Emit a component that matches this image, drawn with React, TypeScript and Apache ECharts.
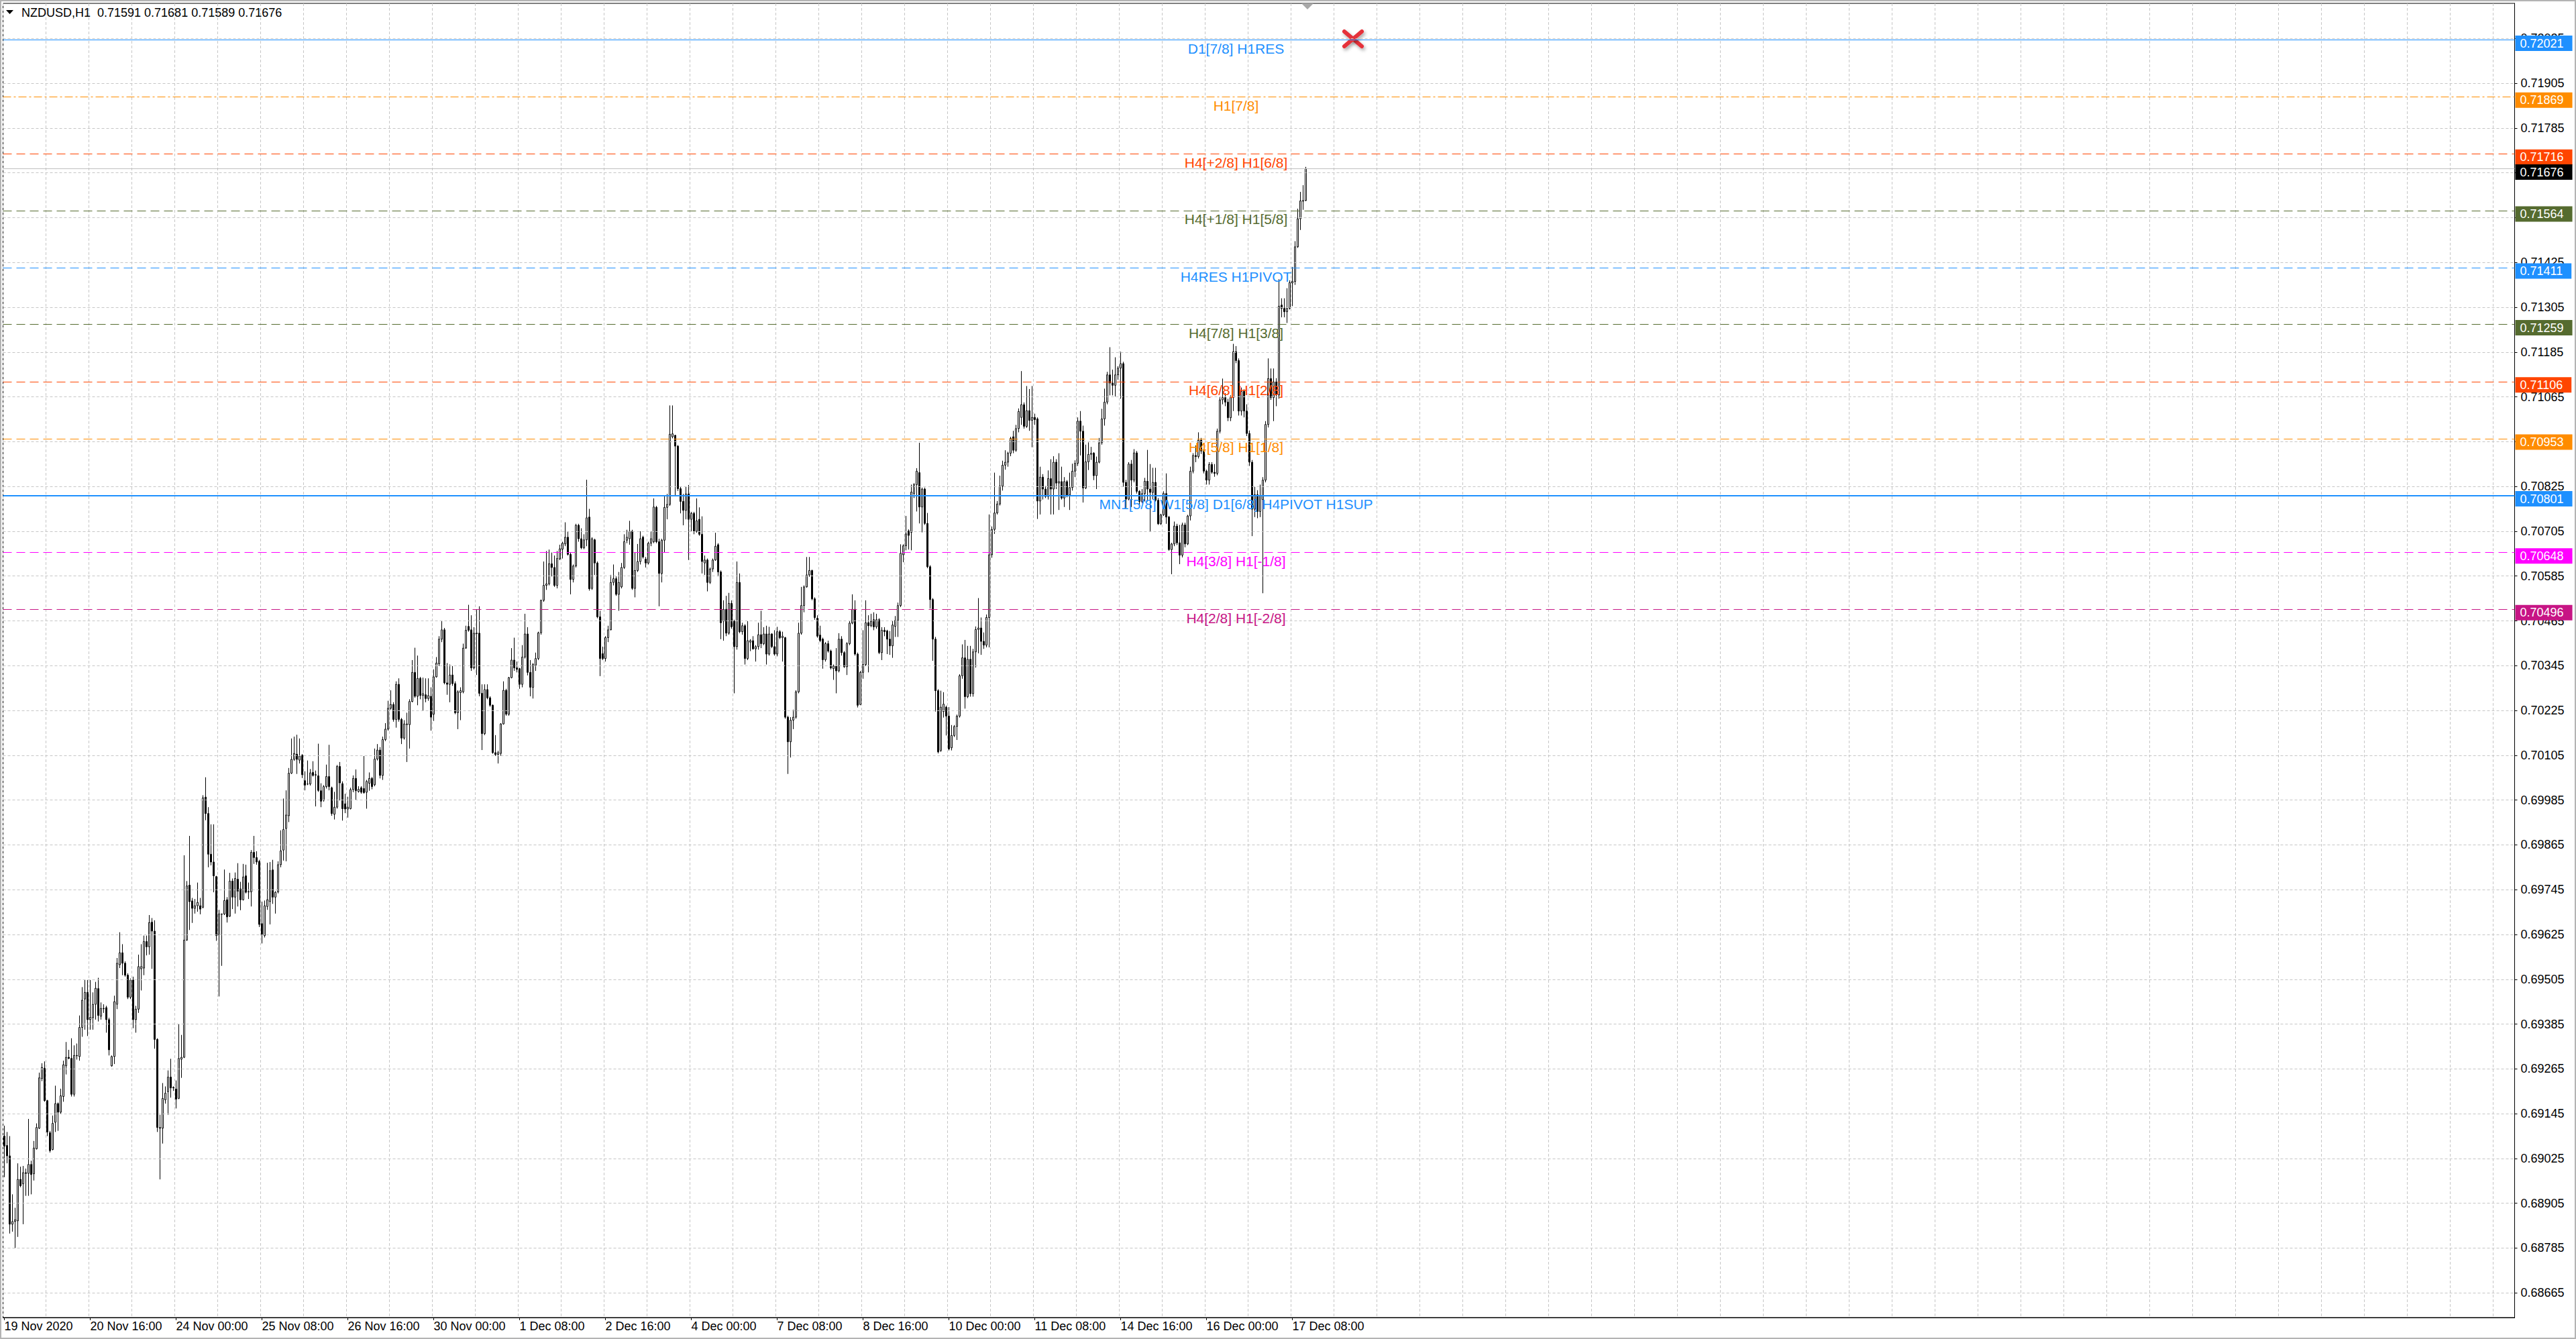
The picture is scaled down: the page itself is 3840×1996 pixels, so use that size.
import React, { useEffect, useRef } from "react";
import * as echarts from "echarts";

// Hourly NZDUSD bars, in points (1 point = 0.00001).
// Each bar: [open, high, low, close]
const bars19to24Nov: number[][] = [
  [69085,69113,68975,69058],[69060,69096,69012,69032],[69032,69085,68824,68849],[68849,68929,68829,68856],
  [68856,68893,68785,68861],[68858,69012,68815,68969],[68969,69003,68948,68952],[68957,69005,68849,68987],
  [68987,68998,68925,68985],[68985,69131,68925,69009],[69009,69019,68929,68982],[68984,69072,68966,69053],
  [69051,69119,69049,69108],[69106,69255,69104,69241],[69239,69280,69232,69269],[69267,69285,69177,69180],
  [69180,69182,69085,69096],[69094,69099,69041,69046],[69049,69140,69047,69119],[69122,69220,69096,69172],
  [69172,69175,69099,69149],[69149,69212,69145,69193],[69191,69287,69177,69276],[69273,69337,69250,69296],
  [69296,69316,69291,69293],[69293,69347,69191,69197],[69197,69328,69191,69301],[69301,69333,69290,69300],
  [69298,69408,69287,69376],[69376,69484,69351,69449],[69452,69503,69370,69470],[69470,69503,69353,69397],
  [69397,69503,69370,69403],[69402,69470,69370,69438],[69438,69498,69397,69481],[69480,69509,69392,69408],
  [69406,69443,69397,69427],[69427,69438,69415,69426],[69429,69434,69362,69397],[69397,69402,69301,69316],
  [69273,69301,69271,69298],[69298,69461,69278,69445],[69438,69562,69425,69548],[69544,69631,69535,69576],
  [69576,69599,69516,69548],[69548,69553,69512,69516],[69516,69521,69452,69457],[69457,69507,69452,69503],
  [69503,69512,69374,69397],[69397,69434,69362,69425],[69425,69571,69415,69539],[69533,69599,69475,69539],
  [69535,69622,69516,69606],[69606,69622,69569,69592],[69592,69677,69571,69657],[69658,69669,69533,69634],
  [69634,69663,69319,69344],[69344,69347,69096,69108],[69108,69142,68969,69106],[69106,69227,69065,69186],
  [69182,69218,69172,69200],[69204,69261,69142,69243],[69243,69292,69188,69214],[69214,69218,69206,69216],
  [69211,69234,69159,69184],[69186,69385,69184,69293],[69291,69356,69241,69296],[69296,69837,69294,69610],
  [69610,69768,69608,69755],[69757,69889,69637,69713],[69715,69723,69656,69695],[69695,69720,69681,69702],
  [69702,69764,69686,69711],[69702,69723,69679,69693],[69698,69998,69695,69991],[69993,70046,69931,69949],
  [69949,69966,69805,69840],[69840,69920,69810,69819],[69819,69920,69738,69782],[69780,69782,69608,69622],
  [69624,69691,69459,69680],[69680,69681,69541,69679],[69680,69799,69677,69716],[69718,69725,69657,69672],
  [69674,69790,69672,69768],[69768,69775,69693,69725],[69725,69791,69681,69775],[69773,69816,69700,69741],
  [69747,69766,69690,69718],[69718,69814,69716,69779],[69782,69812,69735,69738],[69739,69764,69720,69740],
  [69739,69851,69700,69845],[69845,69889,69814,69831],[69831,69848,69812,69819],[69821,69825,69645,69652],
  [69654,69713,69601,69624],[69622,69716,69617,69702],[69700,69817,69691,69718],[69713,69819,69652,69796],
  [69798,69825,69707,69725],[69725,69741,69681,69738],[69739,69821,69735,69812],[69812,69904,69805,69849],
  [69851,69989,69823,69906],[69909,70011,69821,69945],[69943,70071,69926,70057],[70057,70150,70055,70094],
  [70094,70155,70090,70110],[70108,70160,70055,70094],[70092,70150,70083,70103],[70105,70108,70044,70053],
  [70037,70062,70011,70025],[70028,70091,70025,70028],[70028,70068,70024,70058],[70059,70089,70048,70051],
  [70053,70064,69968,70052],[70050,70136,70007,70011],[70010,70030,69966,69982],[69984,70025,69981,70021],
  [70021,70080,70016,70048],[70048,70133,70011,70021],[70018,70021,69943,69949],[69947,70007,69933,69966],
];

const bars24Novto3Dec: number[][] = [
  [69966,70079,69962,70075],[70075,70087,69984,70031],[70029,70035,69930,69962],[69975,70002,69950,69961],
  [69961,69994,69938,69966],[69962,70018,69960,70013],[70013,70051,70006,70043],[70043,70067,69986,70010],
  [70008,70022,70005,70014],[70018,70022,70002,70006],[70016,70103,70002,70005],[70006,70039,69962,70035],
  [70030,70059,70010,70043],[70043,70047,70014,70021],[70026,70123,70022,70095],[70095,70135,70091,70119],
  [70119,70127,70043,70051],[70051,70155,70039,70147],[70147,70191,70143,70175],[70175,70251,70171,70231],
  [70231,70279,70227,70241],[70241,70247,70195,70201],[70201,70303,70179,70295],[70295,70311,70195,70201],
  [70201,70205,70135,70151],[70151,70199,70147,70189],[70187,70219,70087,70189],[70187,70255,70123,70249],
  [70249,70360,70247,70327],[70327,70393,70259,70263],[70263,70372,70239,70311],[70311,70315,70255,70265],
  [70265,70313,70225,70270],[70267,70311,70247,70257],[70257,70311,70251,70265],[70263,70287,70171,70207],
  [70215,70335,70197,70315],[70315,70368,70313,70352],[70350,70424,70344,70416],[70416,70464,70408,70441],
  [70441,70446,70295,70299],[70299,70352,70267,70295],[70295,70348,70247,70320],[70320,70344,70291,70297],
  [70297,70303,70215,70219],[70219,70279,70175,70275],[70273,70287,70199,70278],[70275,70404,70271,70392],
  [70392,70452,70390,70440],[70450,70508,70436,70440],[70441,70480,70331,70339],[70339,70448,70335,70432],
  [70432,70496,70320,70431],[70432,70504,70263,70271],[70271,70295,70119,70163],[70163,70295,70159,70281],
  [70281,70295,70255,70259],[70259,70263,70235,70239],[70239,70241,70109,70112],[70112,70159,70103,70107],
  [70107,70117,70083,70112],[70110,70191,70103,70189],[70189,70303,70187,70279],[70279,70283,70211,70215],
  [70215,70315,70211,70313],[70313,70392,70311,70360],[70360,70420,70331,70339],[70339,70356,70327,70335],
  [70337,70339,70283,70295],[70295,70400,70287,70368],[70368,70484,70364,70430],[70430,70448,70319,70327],
  [70327,70360,70263,70287],[70287,70352,70257,70348],[70346,70380,70331,70364],[70364,70436,70360,70433],
  [70433,70522,70428,70520],[70520,70624,70516,70560],[70560,70652,70548,70564],[70564,70656,70560,70618],
  [70618,70648,70584,70608],[70608,70640,70556,70560],[70560,70652,70552,70632],[70631,70669,70628,70658],
  [70657,70677,70632,70673],[70671,70729,70665,70689],[70689,70705,70640,70643],[70643,70648,70536,70576],
  [70576,70616,70568,70612],[70612,70725,70608,70721],[70721,70725,70677,70685],[70685,70713,70657,70661],
  [70661,70697,70657,70682],[70682,70843,70665,70741],[70743,70765,70546,70551],[70552,70689,70548,70685],
  [70682,70685,70588,70620],[70620,70624,70472,70476],[70476,70492,70317,70364],[70377,70396,70360,70364],
  [70364,70424,70356,70420],[70420,70452,70408,70441],[70441,70588,70440,70568],[70568,70616,70560,70578],
  [70578,70584,70532,70536],[70536,70596,70492,70568],[70556,70620,70552,70608],[70608,70697,70604,70677],
  [70681,70709,70673,70689],[70685,70733,70669,70705],[70705,70709,70548,70552],[70552,70648,70528,70600],
  [70600,70671,70596,70624],[70624,70705,70616,70685],[70689,70693,70632,70636],[70630,70636,70608,70620],
  [70620,70677,70616,70673],[70673,70705,70665,70685],[70677,70793,70673,70770],[70769,70773,70673,70677],
  [70677,70685,70504,70592],[70592,70685,70568,70681],[70681,70801,70648,70769],[70769,70805,70737,70777],
  [70777,71042,70773,70965],[70958,71042,70954,70966],[70962,70963,70801,70933],[70933,70936,70813,70819],
  [70819,70825,70753,70785],[70785,70805,70721,70761],[70761,70825,70737,70805],[70805,70829,70628,70737],
  [70737,70757,70705,70753],[70753,70757,70697,70705],[70705,70793,70701,70733],[70737,70769,70693,70697],
  [70697,70745,70592,70624],[70620,70640,70588,70628],[70628,70632,70544,70568],[70568,70608,70564,70604],
  [70604,70632,70596,70628],[70628,70701,70626,70665],[70669,70673,70584,70596],[70596,70600,70416,70460],
  [70464,70520,70412,70496],[70496,70532,70424,70432],[70432,70540,70428,70512],[70512,70520,70444,70449],
  [70464,70468,70271,70396],[70396,70624,70388,70568],[70568,70592,70432,70436],[70436,70460,70428,70452],
  [70452,70456,70348,70364],[70364,70464,70360,70412],[70408,70416,70384,70412],[70412,70424,70388,70390],
  [70390,70400,70356,70396],[70396,70460,70388,70428],[70428,70492,70392,70404],[70404,70448,70400,70430],
  [70430,70452,70348,70376],[70376,70449,70372,70430],[70430,70432,70392,70396],[70396,70440,70372,70376],
  [70376,70449,70370,70436],[70436,70440,70416,70420],[70420,70436,70356,70424],[70420,70422,70203,70207],
  [70207,70211,70055,70141],[70141,70207,70099,70199],[70199,70227,70175,70207],[70207,70279,70203,70275],
  [70275,70460,70271,70432],[70432,70556,70428,70506],[70506,70560,70488,70556],[70556,70636,70554,70588],
  [70588,70636,70583,70600],[70600,70602,70520,70524],[70524,70528,70468,70474],[70472,70480,70420,70424],
  [70427,70452,70408,70412],[70416,70420,70337,70361],[70361,70408,70356,70404],[70404,70412,70380,70384],
  [70384,70388,70335,70339],[70337,70348,70307,70344],[70344,70392,70271,70331],[70331,70432,70327,70416],
  [70416,70424,70372,70380],[70380,70384,70339,70342],[70342,70408,70320,70404],[70404,70464,70400,70459],
  [70459,70536,70456,70496],[70496,70520,70372,70376],[70376,70380,70233,70239],[70241,70331,70239,70327],
  [70327,70440,70310,70348],[70348,70520,70344,70460],[70460,70480,70327,70452],[70452,70484,70448,70464],
  [70468,70488,70440,70449],[70449,70484,70444,70468],[70468,70472,70376,70380],[70380,70448,70360,70440],
  [70440,70448,70424,70436],[70438,70441,70376,70416],
];

const bars3Decto10Dec: number[][] = [
  [70416,70438,70374,70398],[70398,70466,70366,70454],[70450,70478,70422,70466],[70466,70514,70422,70506],
  [70506,70670,70502,70646],[70642,70670,70622,70666],[70666,70746,70654,70698],[70706,70710,70656,70694],
  [70702,70830,70654,70810],[70806,70834,70794,70830],[70830,70874,70758,70866],[70862,70942,70726,70770],
  [70770,70822,70702,70818],[70818,70822,70722,70726],[70726,70754,70606,70610],[70610,70614,70498,70522],
  [70522,70526,70358,70416],[70416,70422,70222,70278],[70278,70282,70110,70114],[70118,70278,70114,70234],
  [70222,70274,70206,70242],[70234,70238,70158,70210],[70210,70234,70118,70122],[70125,70186,70118,70158],
  [70158,70186,70154,70182],[70182,70214,70146,70210],[70210,70322,70206,70318],[70318,70402,70310,70366],
  [70366,70414,70230,70262],[70262,70398,70258,70362],[70362,70398,70262,70270],[70270,70390,70262,70382],
  [70382,70450,70340,70442],[70442,70526,70378,70446],[70446,70474,70374,70410],[70410,70434,70390,70400],
  [70400,70482,70394,70474],[70474,70750,70394,70642],[70642,70718,70634,70710],[70710,70862,70698,70754],
  [70754,70786,70750,70778],[70778,70854,70774,70826],[70826,70894,70814,70882],[70882,70922,70870,70890],
  [70890,70918,70878,70914],[70914,70958,70906,70954],[70958,70974,70914,70922],[70922,70990,70918,70980],
  [70980,71034,70970,71026],[71010,71134,70990,71044],[71044,71050,70980,70986],[70986,71094,70982,71028],
  [71028,71086,70974,71002],[71002,71094,70930,71010],[71010,71020,70990,71004],[71006,71010,70738,70786],
  [70786,70878,70750,70850],[70850,70858,70790,70818],[70818,70826,70794,70798],[70798,70868,70790,70846],
  [70846,70898,70750,70818],[70818,70906,70750,70890],[70890,70898,70818,70834],[70834,70914,70762,70838],
  [70838,70878,70790,70794],[70794,70850,70770,70838],[70838,70842,70796,70802],[70802,70862,70762,70822],
  [70822,70886,70814,70866],
];

const bars10Decto17Dec: number[][] = [
  [70866,70895,70850,70887],[70887,71010,70880,71000],[71000,71027,70908,70973],[70973,70988,70782,70821],
  [70821,70937,70818,70891],[70891,70943,70869,70911],[70911,70931,70896,70914],[70914,70917,70842,70854],
  [70854,70905,70818,70890],[70890,70955,70887,70942],[70942,71033,70937,71006],[71006,71087,70988,71051],
  [71051,71132,71045,71124],[71124,71198,71069,71102],[71102,71138,71069,71096],[71096,71171,71066,71124],
  [71124,71147,71111,71142],[71142,71186,71060,71154],[71154,71159,70824,70836],[70836,70843,70767,70791],
  [70791,70890,70788,70885],[70885,70896,70770,70842],[70842,70925,70836,70915],[70915,70920,70806,70812],
  [70812,70815,70776,70785],[70785,70818,70780,70806],[70806,70848,70785,70839],[70839,70923,70785,70818],
  [70818,70885,70704,70809],[70809,70875,70791,70836],[70836,70875,70785,70788],[70788,70794,70722,70725],
  [70725,70752,70722,70749],[70749,70812,70746,70806],[70806,70860,70725,70743],[70743,70746,70653,70656],
  [70656,70674,70590,70671],[70671,70731,70665,70719],[70719,70725,70668,70674],[70674,70722,70617,70641],
  [70641,70728,70635,70722],[70722,70728,70662,70671],[70671,70749,70668,70746],[70746,70878,70734,70866],
  [70866,70914,70860,70908],[70908,70935,70890,70905],[70905,70970,70900,70949],[70949,70955,70912,70920],
  [70920,70925,70860,70866],[70866,70870,70830,70842],[70842,70890,70830,70884],[70884,70890,70859,70863],
  [70863,70885,70851,70860],[70860,70980,70855,70973],[70973,71064,70967,71057],[71057,71114,71045,71063],
  [71063,71075,71040,71051],[71051,71060,71000,71009],[71009,71069,71000,71063],[71063,71207,71027,71186],
  [71186,71201,71155,71162],[71162,71168,71015,71027],[71027,71090,71015,71080],[71080,71085,71010,71027],
  [71027,71045,70960,70967],[70967,70975,70880,70890],[70890,70896,70692,70764],[70764,70824,70743,70803],
  [70803,70815,70740,70758],[70758,70830,70743,70800],[70790,70850,70539,70842],[70842,71000,70836,70991],
  [70991,71168,70983,71114],[71114,71141,71057,71063],[71063,71141,71000,71105],[71105,71115,71040,71070],
  [71070,71380,71060,71308],[71311,71329,71278,71302],[71302,71329,71278,71293],[71293,71356,71263,71302],
  [71302,71377,71299,71371],[71370,71413,71308,71374],[71374,71482,71365,71467],[71467,71569,71464,71542],
  [71542,71614,71512,71590],[71589,71632,71566,71591],[71591,71681,71589,71676],
];

// Time axis labels, one every 32 hourly bars
const timeTickLabels = [
  "19 Nov 2020", "20 Nov 16:00", "24 Nov 00:00", "25 Nov 08:00", "26 Nov 16:00", "30 Nov 00:00",
  "1 Dec 08:00", "2 Dec 16:00", "4 Dec 00:00", "7 Dec 08:00", "8 Dec 16:00", "10 Dec 00:00",
  "11 Dec 08:00", "14 Dec 16:00", "16 Dec 00:00", "17 Dec 08:00",
];

// Price scale tick labels
const priceTicks = [
  0.68665, 0.68785, 0.68905, 0.69025, 0.69145, 0.69265, 0.69385, 0.69505, 0.69625, 0.69745,
  0.69865, 0.69985, 0.70105, 0.70225, 0.70345, 0.70465, 0.70585, 0.70705, 0.70825, 0.70945,
  0.71065, 0.71185, 0.71305, 0.71425, 0.71545, 0.71665, 0.71785, 0.71905, 0.72025,
];

// Murrey-math style levels
const levelPrices = [0.72021, 0.71869, 0.71716, 0.71564, 0.71411, 0.71259, 0.71106, 0.70953, 0.70801, 0.70648, 0.70496];
const levelNames = [
  "D1[7/8] H1RES", "H1[7/8]", "H4[+2/8] H1[6/8]", "H4[+1/8] H1[5/8]", "H4RES H1PIVOT",
  "H4[7/8] H1[3/8]", "H4[6/8] H1[2/8]", "H4[5/8] H1[1/8]", "MN1[5/8] W1[5/8] D1[6/8] H4PIVOT H1SUP",
  "H4[3/8] H1[-1/8]", "H4[2/8] H1[-2/8]",
];
const headerText = "NZDUSD,H1  0.71591 0.71681 0.71589 0.71676";

// ---- styles (kept apart from the data) ----
const BLUE = "#1E90FF", ORANGE = "#FF8C00", ORED = "#FF4500", OLIVE = "#556B2F", MAG = "#FF00FF", MVR = "#C71585";
const levelStyles = [
  { color: BLUE, type: "solid", width: 1 },
  { color: ORANGE, type: [12, 4, 3, 4], width: 1 },
  { color: ORED, type: [13, 7], width: 1 },
  { color: OLIVE, type: [13, 7], width: 1 },
  { color: BLUE, type: [13, 7], width: 1 },
  { color: OLIVE, type: [13, 7], width: 1 },
  { color: ORED, type: [13, 7], width: 1 },
  { color: ORANGE, type: [13, 7], width: 1 },
  { color: BLUE, type: "solid", width: 2 },
  { color: MAG, type: [13, 7], width: 1 },
  { color: MVR, type: [13, 7], width: 1 },
];
const FONT = "Liberation Sans";
const TOTAL_SLOTS = 936; // hourly slots visible across the plot width
const LABEL_BAR = 459; // bar the level captions are centred on
const BARS_PER_LABEL = 32;
const BARS_PER_GRID = 16;

export default function App() {
  const ref = useRef<HTMLDivElement>(null);

  useEffect(() => {
    document.body.style.margin = "0";
    if (!ref.current) return;
    const chart = echarts.init(ref.current, undefined, { renderer: "svg" });

    const allBars = [...bars19to24Nov, ...bars24Novto3Dec, ...bars3Decto10Dec, ...bars10Decto17Dec];
    const candleData = allBars.map(([o, h, l, c]) => [o / 1e5, c / 1e5, l / 1e5, h / 1e5]);
    const categories = Array.from({ length: TOTAL_SLOTS }, (_, i) => String(i));
    const lastClose = allBars[allBars.length - 1][3] / 1e5;
    const lastSlot = String(TOTAL_SLOTS - 1);

    const priceBox = (v: number, bg: string) => ({
      coord: [lastSlot, v],
      label: {
        show: true,
        position: "right",
        distance: 3,
        offset: [0, 5],
        formatter: v.toFixed(5),
        color: "#fff",
        backgroundColor: bg,
        fontFamily: FONT,
        fontSize: 18,
        lineHeight: 18,
        padding: [3, 13, 2, 7],
      },
    });

    const option: any = {
      animation: false,
      backgroundColor: "#ffffff",
      grid: { left: 4.5, right: 91.5, top: 5, bottom: 32, show: true, borderColor: "#000", borderWidth: 1, backgroundColor: "transparent" },
      xAxis: {
        type: "category",
        data: categories,
        boundaryGap: true,
        axisLine: { show: true, lineStyle: { color: "#000", width: 1 } },
        axisTick: {
          show: true,
          alignWithLabel: true,
          length: 4,
          interval: (i: number) => i % BARS_PER_LABEL === 0 && i / BARS_PER_LABEL < timeTickLabels.length,
          lineStyle: { color: "#000" },
        },
        axisLabel: {
          show: true,
          interval: (i: number) => i % BARS_PER_LABEL === 0 && i / BARS_PER_LABEL < timeTickLabels.length,
          formatter: (_v: string, i: number) => timeTickLabels[i / BARS_PER_LABEL] ?? "",
          align: "left",
          margin: 4,
          color: "#000",
          fontFamily: FONT,
          fontSize: 18,
        },
        splitLine: {
          show: true,
          interval: (i: number) => i % BARS_PER_GRID === 0,
          lineStyle: { color: "#C6C6C6", type: [4, 3], width: 1 },
        },
      },
      yAxis: {
        type: "value",
        position: "right",
        min: 0.68599,
        max: 0.72119,
        scale: true,
        axisLine: { show: true, lineStyle: { color: "#000" } },
        axisTick: { show: true, length: 4, customValues: priceTicks, lineStyle: { color: "#000" } },
        axisLabel: {
          show: true,
          customValues: priceTicks,
          formatter: (v: number) => v.toFixed(5),
          margin: 9,
          color: "#000",
          fontFamily: FONT,
          fontSize: 18,
        },
        splitLine: { show: false },
      },
      series: [
        {
          type: "line",
          name: "grid",
          data: [],
          silent: true,
          z: 1,
          markLine: {
            silent: true,
            precision: 5,
            symbol: ["none", "none"],
            label: { show: false },
            lineStyle: { color: "#C6C6C6", type: [4, 3], width: 1 },
            data: priceTicks.map((v) => ({ yAxis: v })),
          },
        },
        {
          type: "candlestick",
          name: "NZDUSD,H1",
          data: candleData,
          barWidth: 2,
          z: 3,
          itemStyle: {
            color: "#ffffff",
            color0: "#000000",
            borderColor: "#000000",
            borderColor0: "#000000",
            borderWidth: 1,
          },
        },
        {
          type: "line",
          name: "levels",
          data: [],
          silent: true,
          z: 4,
          markLine: {
            silent: true,
            precision: 5,
            symbol: ["none", "none"],
            label: { show: false },
            data: [
              ...levelPrices.map((v, i) => ({
                yAxis: v,
                lineStyle: { color: levelStyles[i].color, type: levelStyles[i].type, width: levelStyles[i].width },
              })),
              { yAxis: lastClose, lineStyle: { color: "#C0C0C0", type: "solid", width: 1 } },
            ],
          },
          markPoint: {
            silent: true,
            symbol: "rect",
            symbolSize: 0,
            data: [
              ...levelPrices.map((v, i) => ({
                coord: [String(LABEL_BAR), v],
                label: {
                  show: true,
                  position: "inside",
                  offset: [0, 13],
                  formatter: levelNames[i],
                  color: levelStyles[i].color,
                  fontFamily: FONT,
                  fontSize: 21,
                },
              })),
              ...levelPrices.map((v, i) => priceBox(v, levelStyles[i].color)),
              priceBox(lastClose, "#000000"),
            ],
          },
        },
      ],
      graphic: [
        {
          type: "rect",
          silent: true,
          shape: { x: 1, y: 1, width: 3838, height: 1994 },
          style: { fill: "none", stroke: "#B4B4B4", lineWidth: 2 },
          z: 100,
        },
        {
          type: "polygon",
          silent: true,
          shape: { points: [[9, 15], [20, 15], [14.5, 21]] },
          style: { fill: "#000" },
          z: 100,
        },
        {
          type: "text",
          silent: true,
          x: 32,
          y: 10,
          style: { text: headerText, fill: "#000", fontFamily: FONT, fontSize: 18, verticalAlign: "top" },
          z: 100,
        },
        {
          type: "polygon",
          silent: true,
          shape: { points: [[1940, 5], [1958, 5], [1949, 14]] },
          style: { fill: "#A8A8A8" },
          z: 100,
        },
        {
          type: "group",
          silent: true,
          z: 100,
          children: [
            {
              type: "line",
              shape: { x1: 2004, y1: 47, x2: 2030, y2: 69 },
              style: { stroke: "#E5303A", lineWidth: 6, lineCap: "round", shadowBlur: 5, shadowColor: "rgba(0,0,0,0.35)", shadowOffsetX: 2, shadowOffsetY: 3 },
            },
            {
              type: "line",
              shape: { x1: 2030, y1: 47, x2: 2004, y2: 69 },
              style: { stroke: "#E5303A", lineWidth: 6, lineCap: "round", shadowBlur: 5, shadowColor: "rgba(0,0,0,0.35)", shadowOffsetX: 2, shadowOffsetY: 3 },
            },
          ],
        },
      ],
    };
    chart.setOption(option);
    return () => chart.dispose();
  }, []);

  return <div ref={ref} style={{ width: 3840, height: 1996, display: "block" }} />;
}
